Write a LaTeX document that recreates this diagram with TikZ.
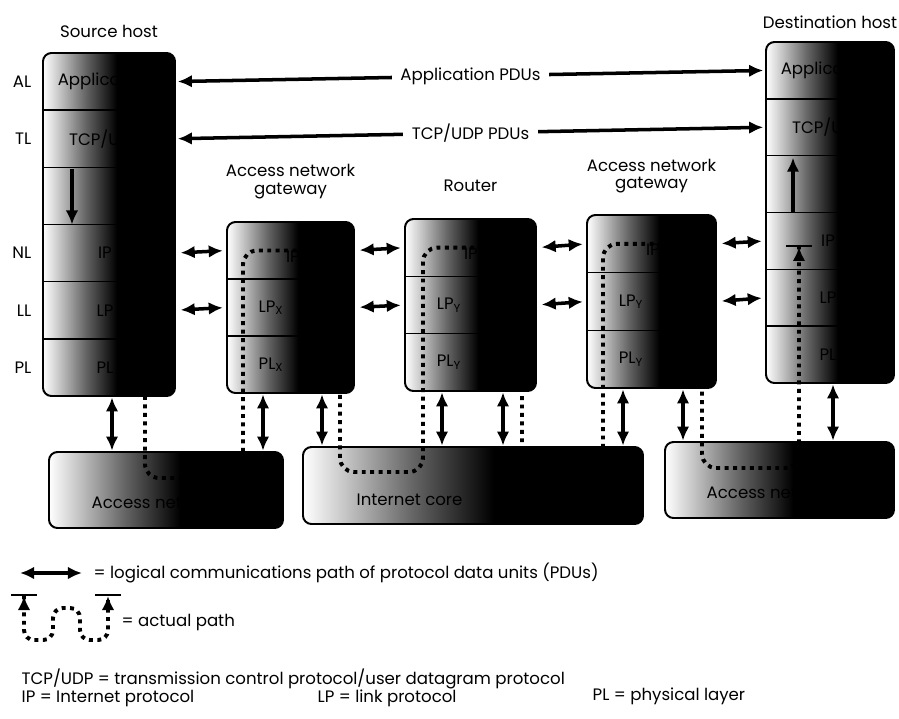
\documentclass[tikz,border=0pt]{standalone}
\usepackage{fontspec}
\setmainfont{Poppins}
\usetikzlibrary{arrows.meta,positioning,calc}
\pgfdeclarehorizontalshading{fade}{100bp}{color(0bp)=(white); color(25bp)=(white); color(31bp)=(black!22); color(41bp)=(black!60); color(53bp)=(black); color(100bp)=(black)}
\def\u{0.025cm}
\tikzset{
  box/.style={draw,line width=1.4pt,rounded corners=6pt,shade,shading=fade,anchor=north west,inner sep=0pt,outer sep=0pt},
  row/.style={anchor=north west,inner sep=0pt,outer sep=0pt},
  divider/.style={line width=1pt},
  lbl/.style={inner sep=1pt},
  pdu/.style={{Latex[length=10pt,width=9pt]}-{Latex[length=10pt,width=9pt]},line width=2.5pt},
  tag/.style={fill=white,inner sep=6pt},
  flow/.style={-{Latex[length=10pt,width=9pt]},line width=2.5pt},
  actual/.style={line width=2.8pt,dash pattern=on 2.8pt off 3.2pt,rounded corners=10pt},
  pathend/.style={-{Latex[length=10pt,width=9pt]Bar[width=18pt,line width=1.4pt]}}
}

\begin{document}
\begin{tikzpicture}[x=\u,y=-\u,font=\fontsize{11.8pt}{12.5pt}\selectfont]
\useasboundingbox (0,0) rectangle (899,718);

% hosts
\node[box,minimum width=132*\u,minimum height=343*\u] (src) at (43,53) {};
\foreach \r [count=\i from 0] in {AL,TL,XL,NL,LL,PL}
  \node[row,minimum width=132*\u,minimum height=343/6*\u] (src-\r) at ($(src.north west)+(0,\i*343/6)$) {};
\foreach \r in {AL,TL,XL,NL,LL}
  \draw[divider] (src-\r.south west) -- (src-\r.south east);
\foreach \r/\t in {AL/Application,TL/{TCP/UDP},NL/IP,LL/LP,PL/PL}
  \node[lbl] (src-\r-t) at ($(src-\r.west)+(62,0)$) {\t};
\foreach \r in {AL,TL,NL,LL,PL}
  \node[lbl,left=0.25cm of src-\r] (side-\r) {\r};

\node[box,minimum width=128*\u,minimum height=341*\u] (dst) at (766,42) {};
\foreach \r [count=\i from 0] in {AL,TL,XL,NL,LL,PL}
  \node[row,minimum width=128*\u,minimum height=341/6*\u] (dst-\r) at ($(dst.north west)+(0,\i*341/6)$) {};
\foreach \r in {AL,TL,XL,NL,LL}
  \draw[divider] (dst-\r.south west) -- (dst-\r.south east);
\foreach \r/\t in {AL/Application,TL/{TCP/UDP},NL/IP,LL/LP,PL/PL}
  \node[lbl] (dst-\r-t) at ($(dst-\r.west)+(62,0)$) {\t};

% gateways and router
\node[box,minimum width=127*\u,minimum height=171*\u] (ga) at (227,222) {};
\node[box,minimum width=131*\u,minimum height=172*\u] (rt) at (405,219) {};
\node[box,minimum width=129*\u,minimum height=173*\u] (gb) at (587,215) {};
\foreach \b/\w/\h/\s in {ga/127/171/X,rt/131/172/Y,gb/129/173/Y}{
  \foreach \r [count=\i from 0] in {NL,LL,PL}
    \node[row,minimum width=\w*\u,minimum height=\h/3*\u] (\b-\r) at ($(\b.north west)+(0,\i*\h/3)$) {};
  \draw[divider] (\b-NL.south west) -- (\b-NL.south east);
  \draw[divider] (\b-LL.south west) -- (\b-LL.south east);
  \node[lbl] (\b-NL-t) at ($(\b-NL.west)+(66,6)$) {IP};
  \node[lbl] (\b-LL-t) at ($(\b-LL.west)+(44,0)$) {LP\textsubscript{\s}};
  \node[lbl] (\b-PL-t) at ($(\b-PL.west)+(44,0)$) {PL\textsubscript{\s}};
}

% networks
\node[box,minimum width=234*\u,minimum height=76*\u] (na) at (49,452) {};
\node[box,minimum width=340*\u,minimum height=77*\u] (inet) at (303,447) {};
\node[box,minimum width=229*\u,minimum height=76*\u] (nb) at (665,442) {};
\node[lbl,anchor=west] (na-t) at ($(na.west)+(41,12)$) {Access network};
\node[lbl,anchor=west] (inet-t) at ($(inet.west)+(52,14)$) {Internet core};
\node[lbl,anchor=west] (nb-t) at ($(nb.west)+(40,12)$) {Access network};

% titles
\node[above=0.25cm of src] (t-src) {Source host};
\node[above=0.2cm of dst] (t-dst) {Destination host};
\node[align=center,above=0.45cm of ga] (t-ga) {Access network\\gateway};
\node[above=0.55cm of rt] (t-rt) {Router};
\node[align=center,above=0.42cm of gb] (t-gb) {Access network\\gateway};

% logical paths
\draw[pdu,shorten <=2pt,shorten >=2pt] (src-AL.east) -- node[tag] (app-t) {Application PDUs} (dst-AL.west);
\draw[pdu,shorten <=2pt,shorten >=2pt] (src-TL.east) -- node[tag] (tcp-t) {TCP/UDP PDUs} (dst-TL.west);
\foreach \a/\b in {src/ga,ga/rt,rt/gb,gb/dst}{
  \draw[pdu,shorten <=4pt,shorten >=3pt] (\a-NL.east) -- (\b-NL.west);
  \draw[pdu,shorten <=4pt,shorten >=3pt] (\a-LL.east) -- (\b-LL.west);
}
\foreach \b/\n/\d in {src/na/69,ga/na/36,ga/inet/95,rt/inet/37,rt/inet/98,gb/inet/36,gb/nb/96,dst/nb/67}
  \draw[pdu,shorten <=1pt,shorten >=1pt] ($(\b.south west)+(\d,0)$) -- ($(\b.south west |- \n.north)+(\d,0)$);

% actual path
\draw[flow] ($(src-XL.north west)+(29,2)$) -- ($(src-XL.south west)+(29,0)$);
\draw[flow] ($(dst-XL.south west)+(27,0)$) -- ($(dst-XL.north west)+(27,2)$);
\draw[actual,pathend] ($(src.south west)+(102,0)$)
  |- ($(na.north west)+(194,26)$)
  |- ($(ga-NL.west)+(113,0)$)
  |- ($(inet.north west)+(120,25)$)
  |- ($(rt-NL.west)+(117,0)$)
  |- ($(inet.north west)+(300,25)$)
  |- ($(gb-NL.west)+(115,0)$)
  |- ($(nb.north west)+(134,26)$)
  -- ($(dst-NL.west)+(33,4)$);

% key
\node[lbl,anchor=west] (key-pdu) at (92,573) {= logical communications path of protocol data units (PDUs)};
\draw[pdu] ($(key-pdu.west)+(-72,0)$) -- ($(key-pdu.west)+(-10,0)$);
\node[lbl,anchor=west] (key-path) at (120,623) {= actual path};
\draw[actual,{Bar[width=18pt,line width=1.4pt]Latex[length=10pt,width=9pt]}-{Latex[length=10pt,width=9pt]Bar[width=18pt,line width=1.4pt]},rounded corners=7pt]
  ($(key-path.west)+(-96,-29)$) -- ++(0,46) -- ++(29,0) -- ++(0,-32) -- ++(27,0) -- ++(0,32) -- ++(28,0) -- ++(0,-46);
\node[lbl,anchor=west] (key-tcp) at (20,679) {TCP/UDP = transmission control protocol/user datagram protocol};
\node[lbl,anchor=west] (key-ip) at (20,699) {IP = Internet protocol};
\node[lbl,anchor=west] (key-lp) at (316,698) {LP = link protocol};
\node[lbl,anchor=west] (key-pl) at (591,696) {PL = physical layer};
\end{tikzpicture}
\end{document}
